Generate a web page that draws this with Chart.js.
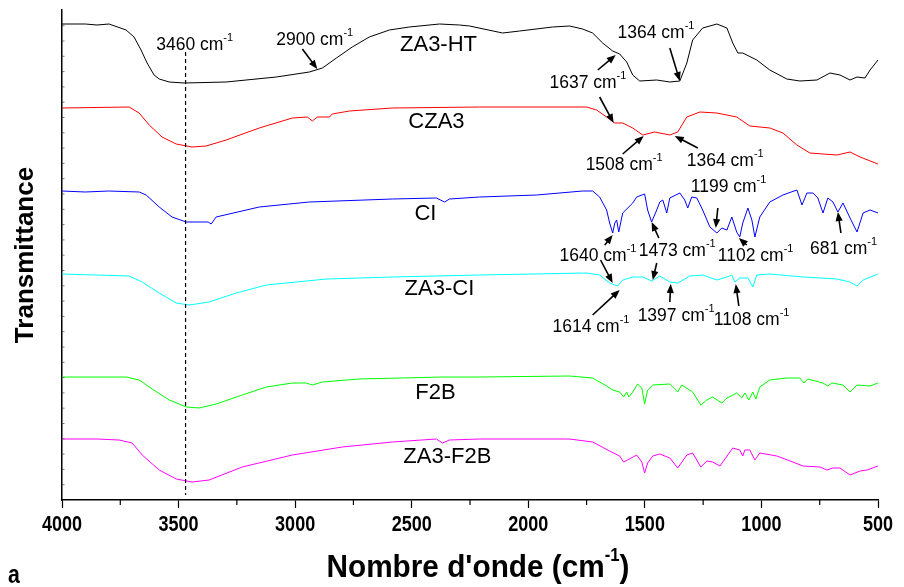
<!DOCTYPE html>
<html>
<head>
<meta charset="utf-8">
<script src="https://cdn.jsdelivr.net/npm/chart.js@4.4.1/dist/chart.umd.min.js"></script>
<style>
  html, body { margin: 0; padding: 0; background: #fff; }
  canvas { display: block; }
</style>
</head>
<body>
<canvas id="ftir" width="904" height="587"></canvas>
<script>
// FTIR spectra, [wavenumber cm-1, transmittance (a.u., stacked)]
const za3HT = [
  [4000, 476], [3900, 476], [3850, 475], [3798, 476], [3725, 470], [3691, 463], [3661, 450],
  [3635, 437], [3605, 425], [3583, 421], [3540, 418], [3476, 417], [3296, 418], [3081, 423],
  [2939, 428], [2883, 432], [2823, 442], [2755, 453], [2682, 463], [2596, 470], [2510, 473],
  [2381, 476], [2295, 475], [2252, 474], [2110, 467], [2037, 469], [1896, 473], [1823, 474],
  [1767, 471], [1724, 467], [1681, 457], [1638, 449], [1608, 446], [1578, 438], [1552, 425],
  [1522, 419], [1449, 420], [1393, 418], [1350, 419], [1320, 437], [1295, 460], [1252, 472],
  [1191, 476], [1148, 472], [1123, 457], [1101, 447], [1080, 447], [1020, 440], [964, 430],
  [891, 421], [835, 419], [762, 420], [706, 427], [663, 425], [620, 420], [590, 423],
  [556, 422], [534, 430], [500, 440],
];
const cza3 = [
  [4000, 392], [3712, 393], [3669, 387], [3626, 375], [3571, 363], [3510, 356], [3442, 353],
  [3382, 354], [3296, 360], [3154, 372], [3012, 382], [2948, 383], [2926, 379], [2905, 383],
  [2853, 383], [2841, 386], [2767, 389], [2583, 392], [2209, 393], [1750, 393], [1707, 390],
  [1664, 383], [1629, 377], [1595, 377], [1552, 372], [1509, 365], [1458, 368], [1393, 365],
  [1359, 368], [1320, 383], [1264, 388], [1191, 387], [1106, 383], [1050, 374], [964, 372],
  [908, 367], [848, 355], [792, 347], [736, 346], [676, 345], [620, 348], [577, 343], [500, 336],
];
const ci = [
  [4000, 309], [3900, 308], [3800, 309], [3669, 308], [3639, 305], [3583, 293], [3528, 283],
  [3467, 278], [3382, 278], [3373, 278], [3360, 276], [3339, 283], [3154, 293], [2939, 298],
  [2583, 301], [2394, 302], [2359, 298], [2338, 301], [2209, 303], [1964, 305], [1767, 309],
  [1724, 309], [1694, 303], [1664, 290], [1651, 277], [1638, 267], [1629, 277], [1621, 280],
  [1612, 268], [1595, 287], [1552, 297], [1535, 303], [1501, 306], [1488, 290], [1471, 278],
  [1449, 290], [1436, 298], [1423, 300], [1406, 287], [1393, 302], [1350, 307], [1329, 300],
  [1316, 292], [1299, 303], [1277, 302], [1252, 290], [1221, 273], [1191, 267], [1170, 272],
  [1148, 270], [1127, 283], [1106, 268], [1093, 263], [1080, 277], [1058, 292], [1041, 280],
  [1028, 263], [1007, 283], [964, 298], [908, 305], [848, 310], [826, 295], [805, 307],
  [779, 307], [758, 302], [736, 287], [715, 302], [693, 298], [672, 288], [650, 297],
  [620, 282], [590, 268], [564, 287], [534, 290], [500, 287],
];
const za3CI = [
  [4000, 226], [3712, 224], [3656, 218], [3583, 207], [3510, 197], [3455, 195], [3369, 198],
  [3253, 207], [3124, 215], [2866, 221], [2583, 223], [2209, 225], [1750, 227], [1694, 225],
  [1651, 217], [1617, 214], [1595, 220], [1552, 223], [1509, 223], [1471, 219], [1436, 224],
  [1393, 218], [1359, 217], [1307, 224], [1252, 225], [1191, 220], [1148, 223], [1127, 225],
  [1114, 218], [1093, 222], [1058, 222], [1037, 213], [1020, 225], [964, 226], [822, 223],
  [676, 221], [620, 218], [590, 214], [564, 220], [500, 226],
];
const f2b = [
  [4000, 123], [3725, 123], [3669, 120], [3613, 111], [3540, 100], [3467, 93], [3412, 92],
  [3339, 96], [3227, 105], [3124, 113], [3012, 117], [2952, 117], [2926, 115], [2883, 118],
  [2725, 121], [2368, 123], [2209, 123], [1823, 124], [1724, 122], [1664, 114], [1638, 110],
  [1608, 108], [1591, 103], [1578, 108], [1569, 103], [1552, 108], [1531, 116], [1513, 112],
  [1501, 96], [1488, 110], [1466, 115], [1393, 116], [1380, 113], [1359, 108], [1342, 115],
  [1295, 108], [1260, 95], [1234, 100], [1209, 103], [1170, 97], [1148, 102], [1106, 107],
  [1084, 102], [1071, 107], [1054, 100], [1037, 108], [1024, 101], [1007, 113], [964, 120],
  [891, 122], [835, 122], [818, 117], [801, 121], [736, 117], [715, 114], [698, 117],
  [650, 115], [620, 108], [590, 115], [534, 114], [500, 117],
];
const za3F2B = [
  [4000, 61], [3850, 61], [3755, 60], [3699, 57], [3656, 45], [3583, 30], [3510, 21],
  [3442, 18], [3369, 20], [3227, 33], [3012, 45], [2798, 53], [2583, 58], [2394, 61],
  [2368, 57], [2338, 60], [2209, 61], [1823, 61], [1724, 58], [1651, 49], [1608, 44],
  [1591, 38], [1574, 40], [1535, 45], [1513, 38], [1501, 27], [1488, 37], [1466, 44],
  [1436, 46], [1393, 42], [1359, 32], [1320, 45], [1295, 47], [1260, 33], [1234, 39],
  [1209, 38], [1178, 34], [1123, 52], [1093, 50], [1080, 44], [1071, 50], [1050, 50],
  [1028, 40], [1007, 47], [934, 44], [865, 38], [822, 34], [749, 33], [719, 30], [693, 32],
  [663, 32], [620, 25], [577, 29], [547, 30], [500, 34],
];

const series = [za3HT, cza3, ci, za3CI, f2b, za3F2B];
const names = ["ZA3-HT", "CZA3", "CI", "ZA3-CI", "F2B", "ZA3-F2B"];
const colors = ["#000000", "#ff0000", "#0000ff", "#00ffff", "#00ff00", "#ff00ff"];
// where each sample name sits (wavenumber, transmittance)
const nameWn = [2385, 2394, 2441, 2381, 2398, 2347];
const nameT = [455, 378, 286, 211, 107, 43];

const xTicks = [4000, 3500, 3000, 2500, 2000, 1500, 1000, 500];

// peak labels: [value, wavenumber at text start, transmittance at text middle]
const peaks = [
  ["3460", 3596, 455], ["2900", 3081, 460], ["1364", 1617, 467], ["1637", 1909, 417],
  ["1508", 1754, 335], ["1364", 1320, 339], ["1199", 1303, 313], ["1640", 1866, 244],
  ["1473", 1526, 249], ["1102", 1187, 244], ["681", 792, 251], ["1614", 1896, 173],
  ["1397", 1531, 184], ["1108", 1204, 180],
];
// arrows: [wn from, T from, wn to, T to]
const arrows = [
  [2969, 451, 2905, 431], [1393, 452, 1350, 419], [1702, 430, 1625, 445], [1694, 403, 1634, 377],
  [1595, 346, 1505, 364], [1273, 352, 1372, 364], [1187, 292, 1196, 272], [1672, 255, 1638, 265],
  [1690, 240, 1638, 217], [1440, 262, 1471, 278], [1449, 237, 1466, 220], [1063, 255, 1097, 262],
  [659, 267, 672, 288], [1724, 185, 1608, 210], [1393, 198, 1389, 216], [1097, 194, 1110, 216],
];
const guide = { wn: 3470, from: 448, to: 5 };

const SANS = '"Liberation Sans", Arial, sans-serif';

function cmText(ctx, label, x, y, size) {
  ctx.font = size + "px " + SANS;
  ctx.textAlign = "left";
  ctx.textBaseline = "middle";
  ctx.fillText(label, x, y);
  const tw = ctx.measureText(label).width;
  ctx.font = Math.round(size * 0.6) + "px " + SANS;
  ctx.fillText("-1", tw + x, y - size * 0.42);
}

// condensed bold text (the original uses a narrow face)
function narrow(ctx, text, x, y, size, align, k) {
  ctx.save();
  ctx.font = "bold " + size + "px " + SANS;
  ctx.textAlign = align;
  ctx.textBaseline = "middle";
  ctx.translate(x, y);
  ctx.scale(k, 1);
  ctx.fillText(text, 0, 0);
  ctx.restore();
}

function arrow(ctx, x1, y1, x2, y2) {
  const a = Math.atan2(y2 - y1, x2 - x1);
  const L = 9, H = 3.6;
  ctx.beginPath();
  ctx.moveTo(x1, y1);
  ctx.lineTo(x2 - Math.cos(a) * L * 0.8, y2 - Math.sin(a) * L * 0.8);
  ctx.stroke();
  ctx.beginPath();
  ctx.moveTo(x2, y2);
  ctx.lineTo(x2 - Math.cos(a) * L + Math.sin(a) * H, y2 - Math.sin(a) * L - Math.cos(a) * H);
  ctx.lineTo(x2 - Math.cos(a) * L - Math.sin(a) * H, y2 - Math.sin(a) * L + Math.cos(a) * H);
  ctx.closePath();
  ctx.fill();
}

const decor = {
  id: "decor",
  afterDraw(chart) {
    const { ctx, scales: { x, y }, chartArea } = chart;
    ctx.save();
    ctx.fillStyle = "#000";
    ctx.strokeStyle = "#000";

    // minor ticks
    ctx.lineWidth = 1.2;
    for (let v = 3750; v > 500; v -= 500) {
      const px = x.getPixelForValue(v);
      ctx.beginPath();
      ctx.moveTo(px, chartArea.bottom);
      ctx.lineTo(px, chartArea.bottom + 5);
      ctx.stroke();
    }
    ctx.lineWidth = 0.8;
    ctx.strokeStyle = "#555";
    for (const t of y.ticks) {
      const py = y.getPixelForValue(t.value);
      if (py <= chartArea.top + 2 || py >= chartArea.bottom - 2) continue;
      ctx.beginPath();
      ctx.moveTo(chartArea.left, py);
      ctx.lineTo(chartArea.left + 2.5, py);
      ctx.stroke();
    }
    ctx.strokeStyle = "#000";

    // x tick labels
    for (const t of x.ticks) {
      narrow(ctx, String(t.value), x.getPixelForValue(t.value), chartArea.bottom + 25, 22, "center", 0.82);
    }

    // 3460 guide
    ctx.lineWidth = 1.2;
    ctx.setLineDash([4, 3]);
    ctx.beginPath();
    ctx.moveTo(x.getPixelForValue(guide.wn), y.getPixelForValue(guide.from));
    ctx.lineTo(x.getPixelForValue(guide.wn), y.getPixelForValue(guide.to));
    ctx.stroke();
    ctx.setLineDash([]);

    // sample names
    ctx.font = "22px " + SANS;
    ctx.textAlign = "center";
    ctx.textBaseline = "middle";
    names.forEach((n, i) => {
      ctx.fillText(n, x.getPixelForValue(nameWn[i]), y.getPixelForValue(nameT[i]));
    });

    // peak labels
    peaks.forEach(([lab, wn, t]) => {
      cmText(ctx, lab + " cm", x.getPixelForValue(wn), y.getPixelForValue(t), 17.5);
    });

    ctx.lineWidth = 1.6;
    arrows.forEach(([w1, t1, w2, t2]) => {
      arrow(ctx, x.getPixelForValue(w1), y.getPixelForValue(t1),
        x.getPixelForValue(w2), y.getPixelForValue(t2));
    });

    // x title with superscript
    const k = 0.93;
    const ty = 568;
    const main = "Nombre d'onde (cm";
    ctx.font = "bold 32px " + SANS;
    const mw = ctx.measureText(main).width * k;
    const cw = ctx.measureText(")").width * k;
    ctx.font = "bold 18px " + SANS;
    const sw = ctx.measureText("-1").width * k;
    const sx = (chartArea.left + chartArea.right) / 2 + 8 - (mw + sw + cw) / 2;
    narrow(ctx, main, sx, ty, 32, "left", k);
    narrow(ctx, "-1", sx + mw, ty - 12, 18, "left", k);
    narrow(ctx, ")", sx + mw + sw, ty, 32, "left", k);

    narrow(ctx, "a", 8, 576, 25, "left", 0.85);
    ctx.restore();
  },
};

new Chart(document.getElementById("ftir"), {
  type: "line",
  data: {
    datasets: series.map((s, i) => ({
      label: names[i],
      data: s.map(([wn, t]) => ({ x: wn, y: t })),
      borderColor: colors[i],
      borderWidth: 1,
      pointRadius: 0,
      tension: 0,
      fill: false,
    })),
  },
  options: {
    responsive: false,
    animation: false,
    layout: { padding: { left: 0, top: 10, right: 26, bottom: 0 } },
    plugins: { legend: { display: false }, tooltip: { enabled: false } },
    scales: {
      x: {
        type: "linear",
        reverse: true,
        min: 500,
        max: 4000,
        afterBuildTicks: (s) => { s.ticks = xTicks.map((v) => ({ value: v })); },
        afterFit: (s) => { s.height = 87; },
        ticks: { display: false },
        grid: { drawOnChartArea: false, tickLength: 8, color: "#000", tickWidth: 1.2 },
        border: { display: true, color: "#000", width: 1.5 },
      },
      y: {
        type: "linear",
        min: 0,
        max: 490,
        ticks: { display: false, stepSize: 15.3 },
        afterFit: (s) => { s.width = 62; },
        grid: { display: false },
        border: { display: true, color: "#000", width: 1.5 },
        title: {
          display: true,
          text: "Transmittance",
          color: "#000",
          padding: { top: 10, bottom: 0 },
          font: { family: SANS, size: 26, weight: "bold" },
        },
      },
    },
  },
  plugins: [decor],
});
</script>
</body>
</html>
